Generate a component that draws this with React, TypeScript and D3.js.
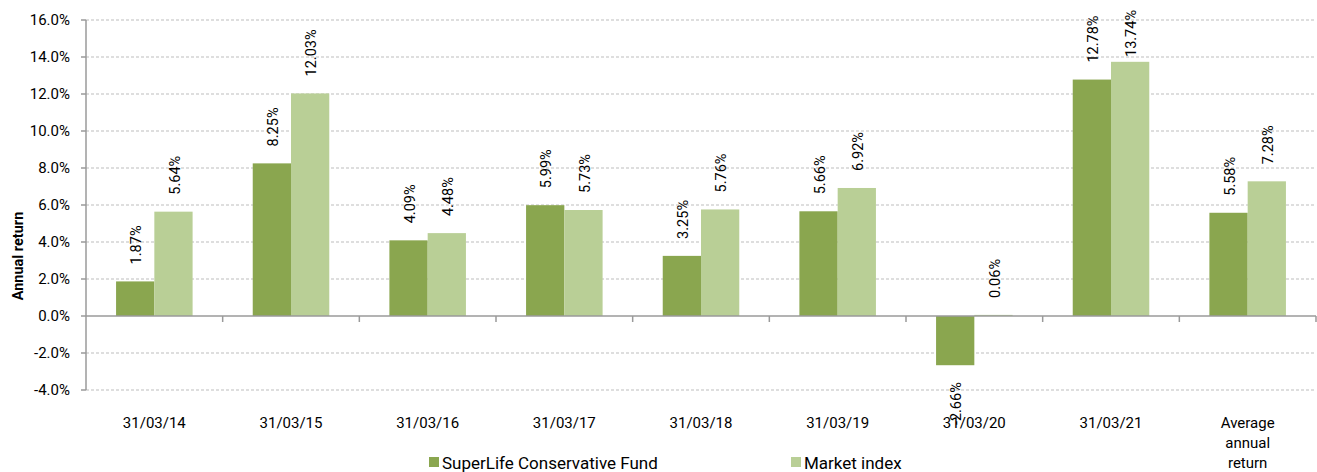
import * as d3 from "d3";

const categories = ["31/03/14", "31/03/15", "31/03/16", "31/03/17", "31/03/18", "31/03/19", "31/03/20", "31/03/21", "Average\nannual\nreturn"];
const seriesNames = ["SuperLife Conservative Fund", "Market index"];
const fundValues = [1.87, 8.25, 4.09, 5.99, 3.25, 5.66, -2.66, 12.78, 5.58];
const indexValues = [5.64, 12.03, 4.48, 5.73, 5.76, 6.92, 0.06, 13.74, 7.28];
const yTicks = [-4, -2, 0, 2, 4, 6, 8, 10, 12, 14, 16];

const colors = ["#8aa64f", "#b9cf96"];
const font = "Roboto, 'Noto Sans', sans-serif";

const W = 1317;
const H = 472;
const margin = { top: 20, right: 1, bottom: 82, left: 86 };

export default function App() {
  const x = d3.scaleBand<string>().domain(categories).range([margin.left, W - margin.right]).padding(0);
  const y = d3.scaleLinear().domain([-4, 16]).range([H - margin.bottom, margin.top]);
  const bw = x.bandwidth();
  const x1 = d3.scaleBand<string>().domain(seriesNames).range([bw * 0.22, bw * 0.78]).padding(0);
  const series = [fundValues, indexValues];
  const y0 = y(0);

  return (
    <svg width={W} height={H} style={{ position: "absolute", left: 0, top: 0, fontFamily: font }}>
      <rect width={W} height={H} fill="#fff" />
      {/* gridlines */}
      {yTicks.filter(t => t !== 0).map(t => (
        <line key={t} x1={margin.left} x2={W - margin.right} y1={y(t)} y2={y(t)}
          stroke="#bdbdbd" strokeWidth={1} strokeDasharray="3,2" />
      ))}
      {/* bars */}
      {series.map((vals, si) => vals.map((v, i) => {
        const bx = (x(categories[i]) as number) + (x1(seriesNames[si]) as number);
        return (
          <rect key={`${si}-${i}`} x={bx} width={x1.bandwidth()}
            y={Math.min(y(v), y0)} height={Math.abs(y(v) - y0)} fill={colors[si]} />
        );
      }))}
      {/* y axis */}
      <line x1={margin.left} x2={margin.left} y1={y(16)} y2={y(-4)} stroke="#9a9a9a" strokeWidth={1.5} />
      {yTicks.map(t => (
        <g key={t}>
          <line x1={margin.left - 5} x2={margin.left} y1={y(t)} y2={y(t)} stroke="#9a9a9a" strokeWidth={1.5} />
          <text x={70} y={y(t)} dy="0.35em" textAnchor="end" fontSize={15} fill="#000">{t.toFixed(1)}%</text>
        </g>
      ))}
      <text transform={`translate(23,256) rotate(-90)`} textAnchor="middle" fontSize={14.5} fontWeight="bold">Annual return</text>
      {/* x axis */}
      <line x1={margin.left} x2={W - margin.right} y1={y0} y2={y0} stroke="#9a9a9a" strokeWidth={1.5} />
      {categories.map(c => (
        <line key={c} x1={(x(c) as number) + bw} x2={(x(c) as number) + bw} y1={y0} y2={y0 + 6}
          stroke="#9a9a9a" strokeWidth={1.5} />
      ))}
      {categories.map(c => {
        const lines = c.split("\n");
        return (
          <text key={c} x={(x(c) as number) + bw / 2} y={428} textAnchor="middle" fontSize={15}>
            {lines.map((l, li) => (
              <tspan key={li} x={(x(c) as number) + bw / 2} dy={li === 0 ? 0 : 20}>{l}</tspan>
            ))}
          </text>
        );
      })}
      {/* data labels (kept inside the chart area, like Excel) */}
      {series.map((vals, si) => vals.map((v, i) => {
        const cx = (x(categories[i]) as number) + (x1(seriesNames[si]) as number) + x1.bandwidth() / 2 + 1;
        const pos = v >= 0;
        const ly = pos ? Math.max(y(v) - 17, 57) : y(v) + 17;
        return (
          <text key={`l${si}-${i}`} transform={`translate(${cx},${ly}) rotate(-90)`}
            textAnchor={pos ? "start" : "end"} dy="0.35em" fontSize={14.5}>{v.toFixed(2)}%</text>
        );
      }))}
      {/* legend */}
      {seriesNames.map((s, si) => {
        const lx = si === 0 ? 429 : 791;
        return (
          <g key={s}>
            <rect x={lx} y={457} width={10} height={10} fill={colors[si]} />
            <text x={lx + 13} y={463} dy="0.35em" fontSize={17}>{s}</text>
          </g>
        );
      })}
    </svg>
  );
}
